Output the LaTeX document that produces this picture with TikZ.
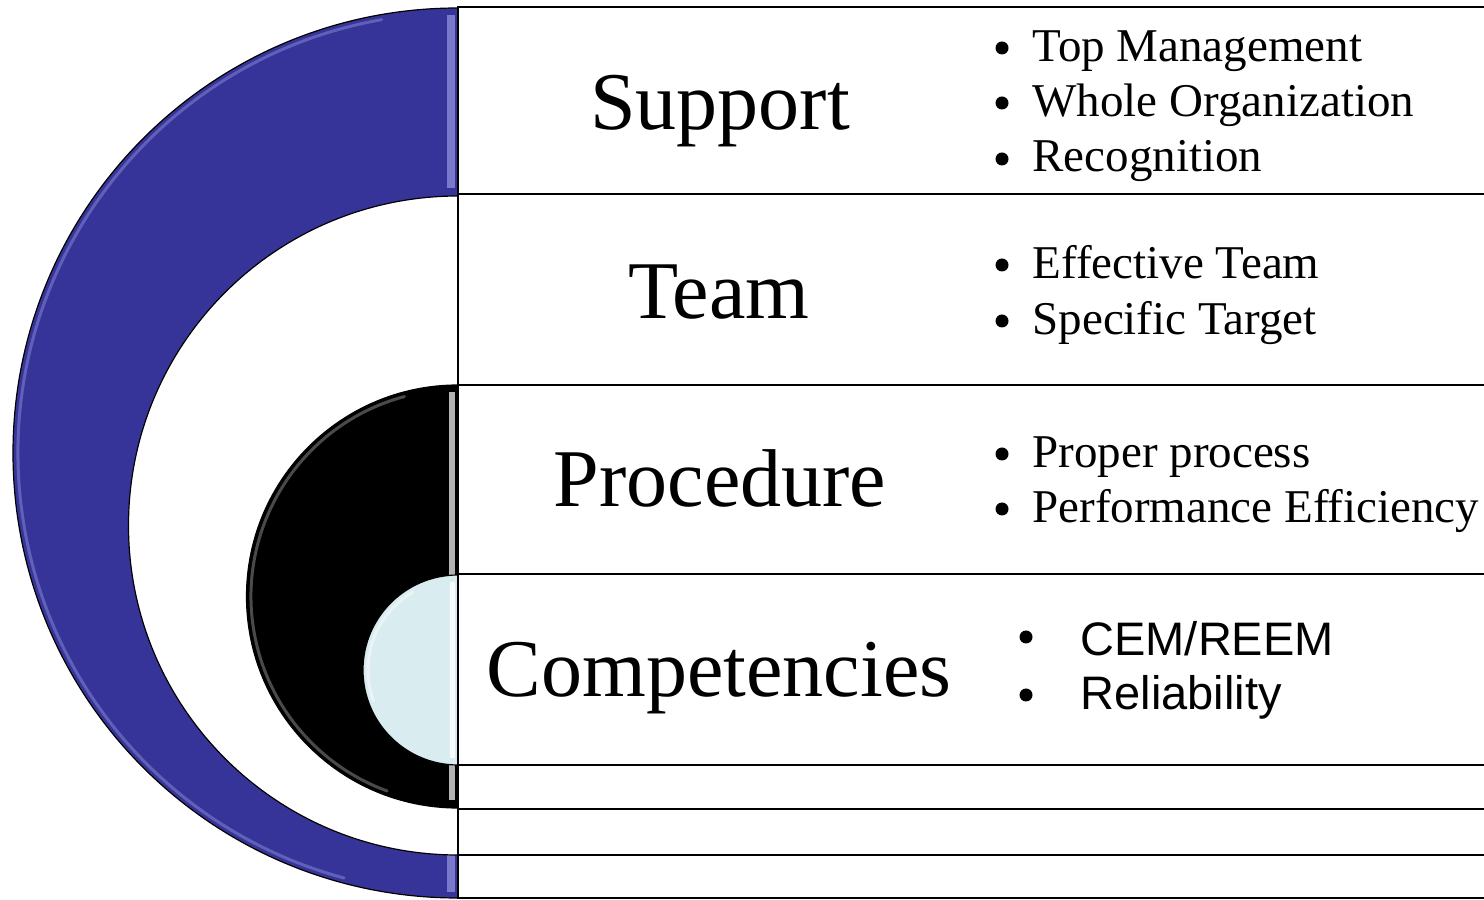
\documentclass[tikz,border=0pt]{standalone}
\usepackage{fontspec}
\setmainfont{Liberation Serif}
\newfontfamily\arialf{Liberation Sans}
\definecolor{discblue}{RGB}{54,52,153}
\definecolor{disclight}{RGB}{217,236,239}
\definecolor{hiblue}{RGB}{150,150,225}
\begin{document}
\begin{tikzpicture}[x=1pt,y=1pt,
  halfdisc/.style={draw=black,line width=1.2pt},
  gloss/.style={line width=3pt,opacity=0.45,line cap=round},
  rowbox/.style={draw=black,line width=2pt,fill=white},
  title/.style={anchor=base,font=\fontsize{82}{96}\selectfont},
  item/.style={anchor=base west,font=\fontsize{47}{56}\selectfont},
  dot/.style={circle,fill=black,inner sep=0pt,minimum size=13pt},
  sitem/.style={anchor=base west,font=\arialf\fontsize{47}{56}\selectfont},
  sdot/.style={circle,fill=black,inner sep=0pt,minimum size=13pt}]
\useasboundingbox (0,0) rectangle (1484,900);
\clip (0,0) rectangle (1484,900);
\fill[white] (0,0) rectangle (1484,900);
% outer blue half disc
\path[halfdisc,fill=discblue] (458,892) arc[start angle=90,end angle=270,radius=445] -- cycle;
\draw[gloss,hiblue] ([shift={(100:440)}]458,447) arc[start angle=100,end angle=255,radius=440];
\fill[hiblue,opacity=0.7] (447,885) rectangle (455,712);
\fill[hiblue,opacity=0.7] (447,45) rectangle (455,8);
% inner white half disc
\path[halfdisc,fill=white] (458,704) arc[start angle=90,end angle=270,radius=329.5] -- cycle;
% black half disc
\path[halfdisc,fill=black] (458,515) arc[start angle=90,end angle=270,radius=211.5] -- cycle;
\draw[gloss,gray!70] ([shift={(105:207)}]458,303.5) arc[start angle=105,end angle=250,radius=207];
\fill[gray!60] (449,508) rectangle (455,100);
% light blue half disc
\path[halfdisc,fill=disclight] (458,325) arc[start angle=90,end angle=270,radius=95] -- cycle;
\draw[gloss,white] ([shift={(120:90)}]458,230) arc[start angle=120,end angle=200,radius=90];
\fill[white,opacity=0.8] (450,318) rectangle (455,142);
% rows
\draw[rowbox] (458,893) rectangle (1500,706);
\draw[rowbox] (458,706) rectangle (1500,515);
\draw[rowbox] (458,515) rectangle (1500,326);
\draw[rowbox] (458,326) rectangle (1500,135);
\draw[rowbox] (458,135) rectangle (1500,91);
\draw[rowbox] (458,91) rectangle (1500,45);
\draw[rowbox] (458,45) rectangle (1500,2);
% titles
\node[title] (support) at (720,770) {Support};
\node[title] (team) at (719,581) {Team};
\node[title] (procedure) at (720,393) {Procedure};
\node[title] (competencies) at (719,203) {Competencies};
% support items
\node[dot] (b11) at (1002,852) {};
\node[item] (i11) at (1029,838) {Top Management};
\node[dot] (b12) at (1002,797) {};
\node[item] (i12) at (1029,783) {Whole Organization};
\node[dot] (b13) at (1002,741) {};
\node[item] (i13) at (1029,728) {Recognition};
% team items
\node[dot] (b21) at (1002,635) {};
\node[item] (i21) at (1029,621) {Effective Team};
\node[dot] (b22) at (1002,579) {};
\node[item] (i22) at (1029,565) {Specific Target};
% procedure items
\node[dot] (b31) at (1002,446) {};
\node[item] (i31) at (1029,432) {Proper process};
\node[dot] (b32) at (1002,391) {};
\node[item] (i32) at (1029,377) {Performance Efficiency};
% competencies items
\node[sdot] (b41) at (1026,263) {};
\node[sitem] (i41) at (1077,244) {CEM/REEM};
\node[sdot] (b42) at (1026,205) {};
\node[sitem] (i42) at (1077,190) {Reliability};
\end{tikzpicture}
\end{document}
